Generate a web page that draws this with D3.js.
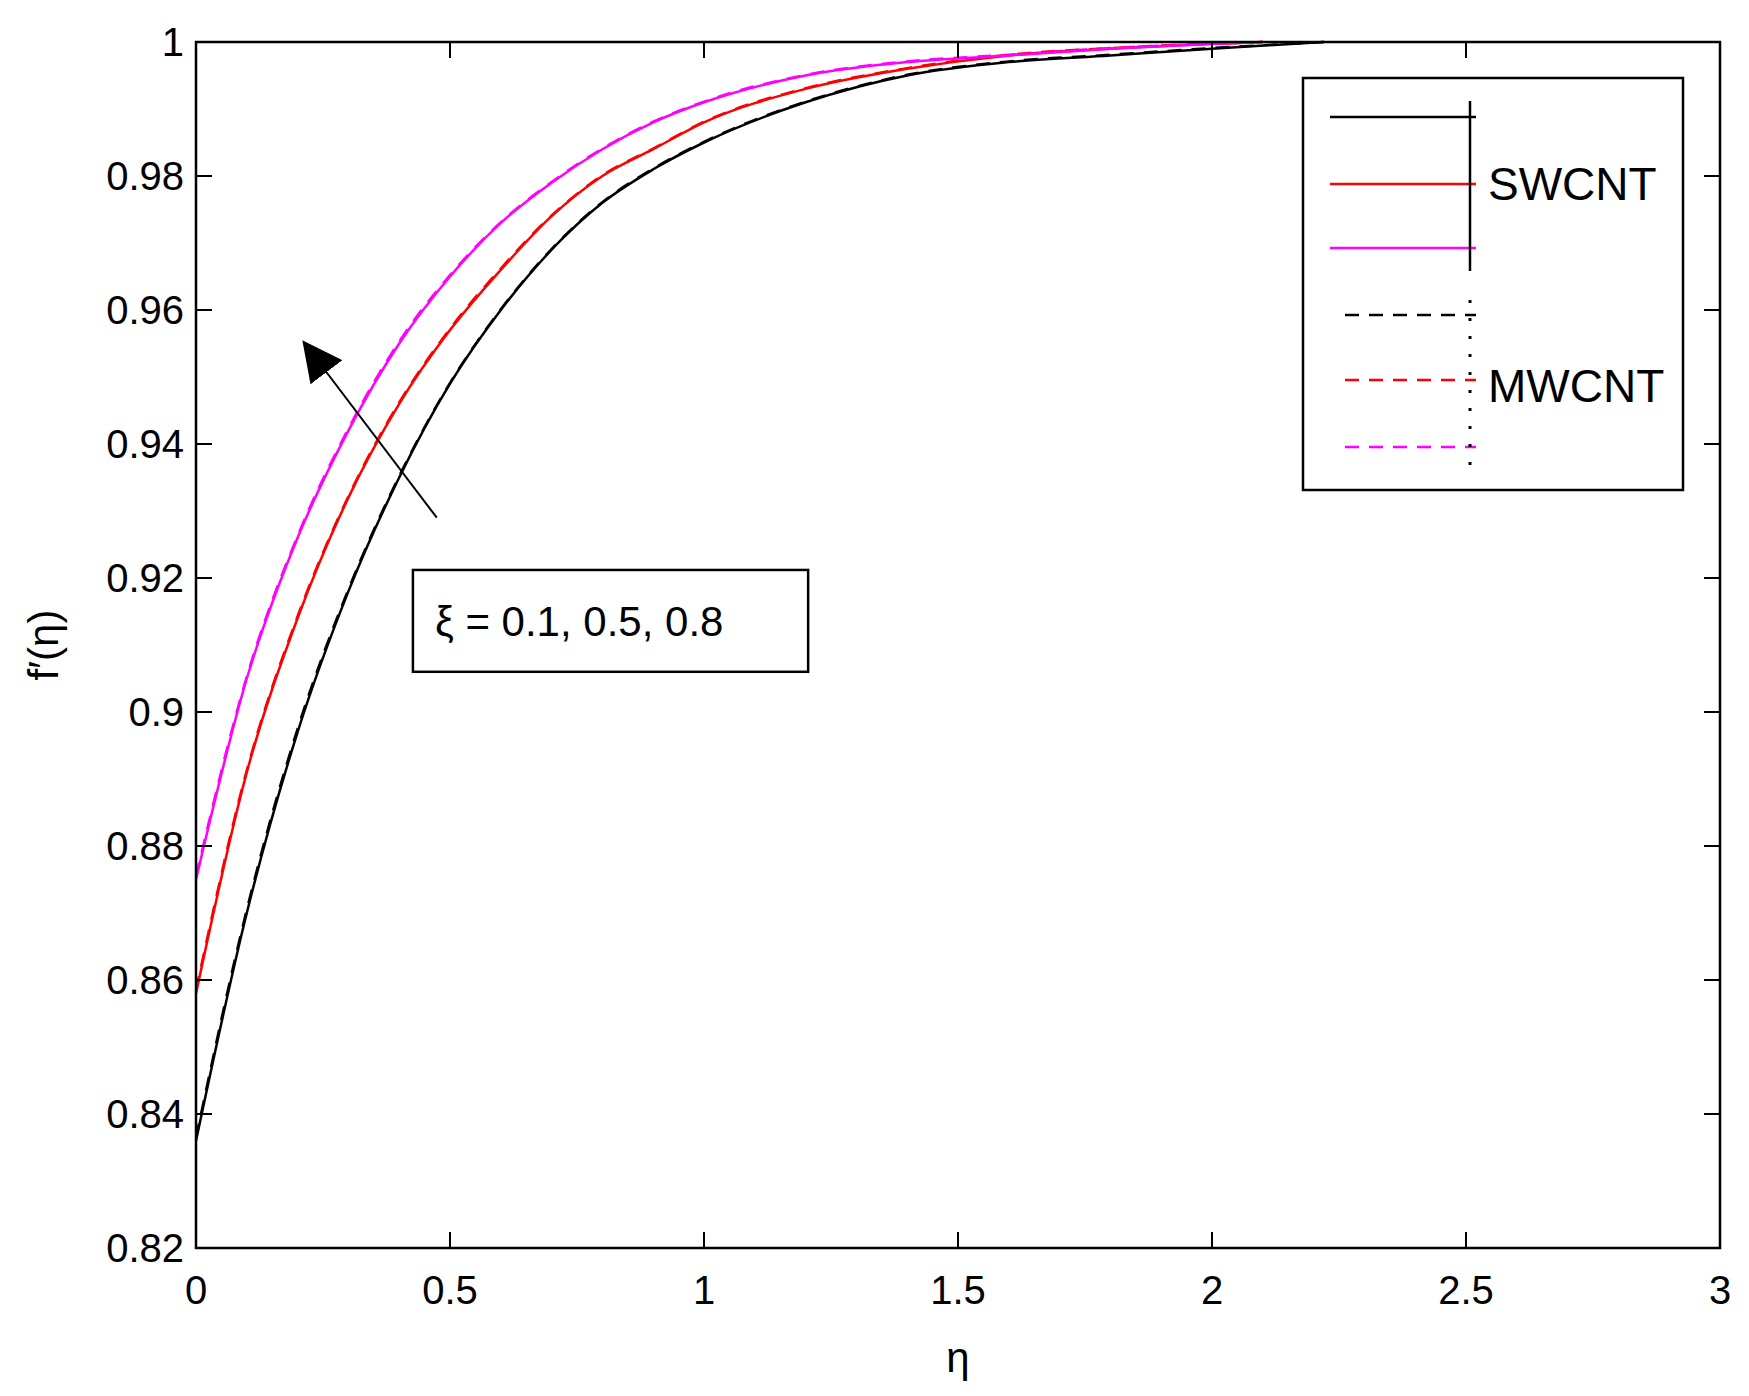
<!DOCTYPE html>
<html><head><meta charset="utf-8">
<script src="https://cdn.jsdelivr.net/npm/d3@7"></script>
<style>body{margin:0;background:#fff}text{font-family:"Liberation Sans",Arial,sans-serif}</style>
</head><body><svg id="c" width="1749" height="1396"></svg>
<script>
var etaBlack = [0,0.1,0.2,0.3,0.4,0.5,0.6,0.7,0.8,0.9,1.0,1.2,1.4,1.6,1.8,2.0,2.22];
var swBlack  = [0.836,0.870,0.897,0.918,0.935,0.949,0.960,0.969,0.976,0.981,0.985,0.991,0.995,0.997,0.998,0.999,1.0];
var eta2     = [0,0.1,0.2,0.3,0.4,0.5,0.6,0.7,0.8,0.9,1.0,1.2,1.4,1.6,1.8,2.1];
var swRed    = [0.858,0.891,0.914,0.932,0.946,0.957,0.966,0.974,0.980,0.984,0.988,0.993,0.996,0.998,0.999,1.0];
var swMag    = [0.875,0.905,0.926,0.942,0.955,0.965,0.973,0.979,0.984,0.988,0.991,0.995,0.997,0.998,0.999,1.0];
var mwBlack  = [0.8365,0.8705,0.8975,0.9183,0.9352,0.9491,0.9601,0.9691,0.9761,0.9811,0.9851,0.9911,0.9951,0.9971,0.9981,0.9991,1.0];
var mwRed    = [0.8585,0.8913,0.9143,0.9322,0.9462,0.9572,0.9662,0.9741,0.9801,0.9841,0.9881,0.9931,0.9961,0.9981,0.9991,1.0];
var mwMag    = [0.8755,0.9053,0.9263,0.9423,0.9553,0.9652,0.9731,0.9791,0.9841,0.9881,0.9911,0.9951,0.9971,0.9981,0.9991,1.0];
var xTicks = [0,0.5,1,1.5,2,2.5,3];
var yTicks = [0.82,0.84,0.86,0.88,0.9,0.92,0.94,0.96,0.98,1];

var series = [
  {x: etaBlack, y: mwBlack, color: "black", dash: "14,10"},
  {x: eta2, y: mwRed, color: "red", dash: "14,10"},
  {x: eta2, y: mwMag, color: "magenta", dash: "14,10"},
  {x: etaBlack, y: swBlack, color: "black", dash: null},
  {x: eta2, y: swRed, color: "red", dash: null},
  {x: eta2, y: swMag, color: "magenta", dash: null}
];

var L = 196, R = 1720, T = 42, B = 1248;
var svg = d3.select("#c");
var x = d3.scaleLinear().domain([0,3]).range([L,R]);
var y = d3.scaleLinear().domain([0.82,1]).range([B,T]);

var g = svg.append("g");
series.forEach(function(s){
  var pts = s.x.map(function(v,i){ return [v, s.y[i]]; });
  g.append("path").datum(pts)
    .attr("fill","none").attr("stroke",s.color).attr("stroke-width",2.5)
    .attr("stroke-dasharray",s.dash)
    .attr("d", d3.line().x(function(d){return x(d[0]);}).y(function(d){return y(d[1]);}).curve(d3.curveMonotoneX));
});

// axes box
svg.append("rect").attr("x",L).attr("y",T).attr("width",R-L).attr("height",B-T)
  .attr("fill","none").attr("stroke","black").attr("stroke-width",2.5);
var tl = 16;
xTicks.forEach(function(t){
  svg.append("line").attr("x1",x(t)).attr("x2",x(t)).attr("y1",B).attr("y2",B-tl).attr("stroke","black").attr("stroke-width",2);
  svg.append("line").attr("x1",x(t)).attr("x2",x(t)).attr("y1",T).attr("y2",T+tl).attr("stroke","black").attr("stroke-width",2);
  svg.append("text").attr("x",x(t)).attr("y",B+56).attr("text-anchor","middle").attr("font-size",40).text(t);
});
yTicks.forEach(function(t){
  svg.append("line").attr("x1",L).attr("x2",L+tl).attr("y1",y(t)).attr("y2",y(t)).attr("stroke","black").attr("stroke-width",2);
  svg.append("line").attr("x1",R).attr("x2",R-tl).attr("y1",y(t)).attr("y2",y(t)).attr("stroke","black").attr("stroke-width",2);
  svg.append("text").attr("x",L-12).attr("y",y(t)+14).attr("text-anchor","end").attr("font-size",40).text(d3.format("~g")(t));
});
svg.append("text").attr("x",(L+R)/2).attr("y",1372).attr("text-anchor","middle").attr("font-size",42).text("η");
svg.append("text").attr("transform","translate(58,"+((T+B)/2)+") rotate(-90)").attr("text-anchor","middle").attr("font-size",42).text("f′(η)");

// arrow
svg.append("defs").append("marker").attr("id","ah").attr("viewBox","0 0 10 10").attr("refX",9).attr("refY",5)
  .attr("markerWidth",14).attr("markerHeight",14).attr("markerUnits","userSpaceOnUse").attr("orient","auto")
  .append("path").attr("d","M0,0 L10,5 L0,10 z");
d3.select("marker").attr("markerWidth",40).attr("markerHeight",40);
svg.append("line").attr("x1",x(0.474)).attr("y1",y(0.929)).attr("x2",x(0.214)).attr("y2",y(0.955))
  .attr("stroke","black").attr("stroke-width",2).attr("marker-end","url(#ah)");

// annotation box
svg.append("rect").attr("x",x(0.427)).attr("y",y(0.9212)).attr("width",x(1.205)-x(0.427)).attr("height",y(0.906)-y(0.9212))
  .attr("fill","white").attr("stroke","black").attr("stroke-width",2.5);
svg.append("text").attr("x",x(0.427)+22).attr("y",y(0.9136)+15).attr("font-size",42).text("ξ = 0.1, 0.5, 0.8");

// legend
var lg = svg.append("g");
lg.append("rect").attr("x",1303).attr("y",78).attr("width",380).attr("height",412)
  .attr("fill","white").attr("stroke","black").attr("stroke-width",2.5);
var legY = [117,184,248,315,380,447];
var legOrder = [3,4,5,0,1,2];
legOrder.forEach(function(k,i){
  var s = series[k];
  lg.append("line").attr("x1", s.dash ? 1345 : 1330).attr("x2",1476).attr("y1",legY[i]).attr("y2",legY[i])
    .attr("stroke",s.color).attr("stroke-width",2.5).attr("stroke-dasharray",s.dash);
});
lg.append("line").attr("x1",1470).attr("x2",1470).attr("y1",101).attr("y2",271).attr("stroke","black").attr("stroke-width",2.5);
lg.append("line").attr("x1",1470).attr("x2",1470).attr("y1",300).attr("y2",466).attr("stroke","black").attr("stroke-width",3).attr("stroke-dasharray","3,15");
lg.append("text").attr("x",1488).attr("y",200).attr("font-size",46).text("SWCNT");
lg.append("text").attr("x",1488).attr("y",402).attr("font-size",46).text("MWCNT");
</script></body></html>
